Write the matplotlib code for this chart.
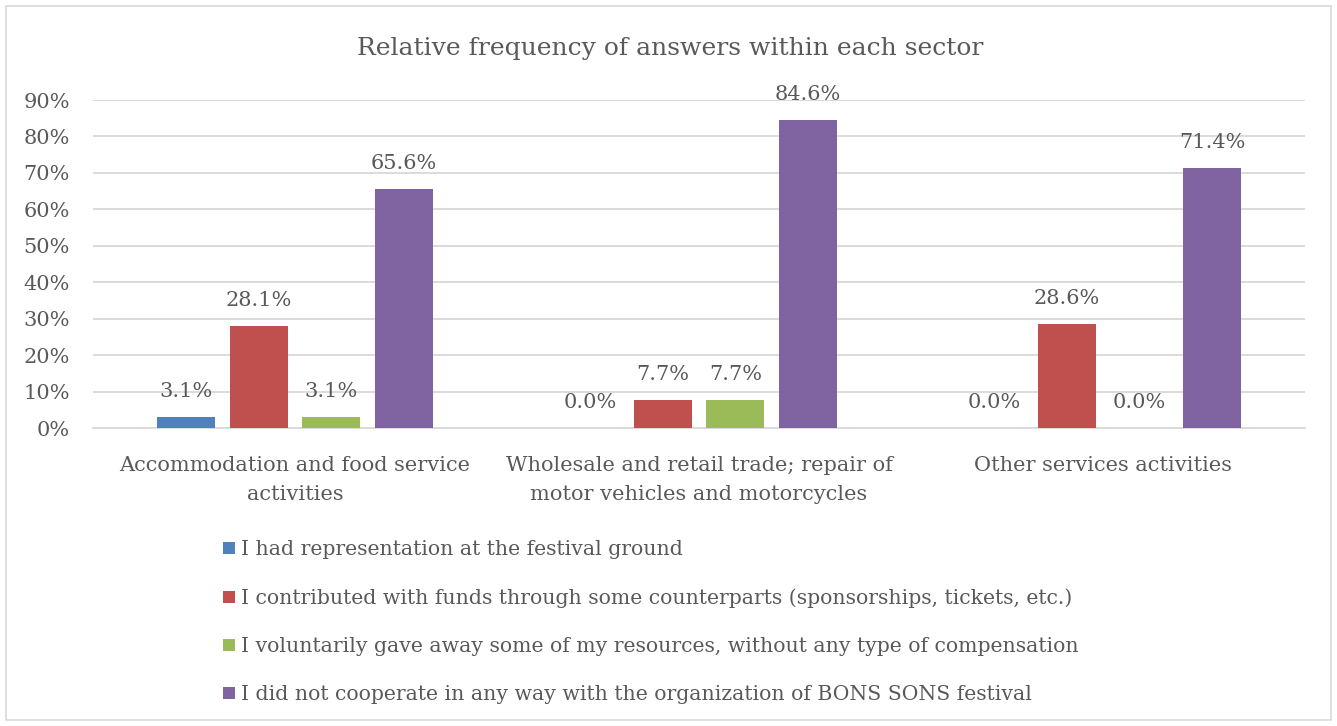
import numpy as np
import matplotlib
matplotlib.use("Agg")
import matplotlib.pyplot as plt
from matplotlib.patches import Rectangle

sectors = ["Accommodation and food service\nactivities",
           "Wholesale and retail trade; repair of\nmotor vehicles and motorcycles",
           "Other services activities"]
answers = ["I had representation at the festival ground",
           "I contributed with funds through some counterparts (sponsorships, tickets, etc.)",
           "I voluntarily gave away some of my resources, without any type of compensation",
           "I did not cooperate in any way with the organization of BONS SONS festival"]
# percentage of answers per sector, one list per answer
had_representation = [3.1, 0.0, 0.0]
contributed_funds = [28.1, 7.7, 28.6]
gave_resources = [3.1, 7.7, 0.0]
did_not_cooperate = [65.6, 84.6, 71.4]
yticks = [0, 10, 20, 30, 40, 50, 60, 70, 80, 90]

series = [had_representation, contributed_funds, gave_resources, did_not_cooperate]
colors = ["#4F81BD", "#C0504D", "#9BBB59", "#8064A2"]
text_col = "#595959"

plt.rcParams['font.family'] = ['DejaVu Serif']

fig = plt.figure(figsize=(13.37, 7.26), dpi=100)
fig.patches.append(Rectangle((6 / 1337, 6 / 726), 1 - 12 / 1337, 1 - 12 / 726,
                             transform=fig.transFigure, fill=False,
                             edgecolor="#D9D9D9", linewidth=1.2))

ax = fig.add_axes([93 / 1337, 1 - 428 / 726, (1305 - 93) / 1337, (428 - 100) / 726])

x = np.arange(len(sectors))
width = 0.143
step = 0.18
for i, (vals, col) in enumerate(zip(series, colors)):
    pos = x + (i - 1.5) * step
    ax.bar(pos, vals, width=width, color=col, label=answers[i], zorder=3)
    for p, v in zip(pos, vals):
        ax.annotate(f"{v:.1f}%", (p, v), xytext=(0, 18), textcoords="offset points",
                    ha="center", va="center", fontsize=15, color=text_col)

ax.set_xlim(-0.5, 2.5)
ax.set_ylim(0, 90)
ax.set_yticks(yticks)
ax.set_yticklabels([f"{t}%" for t in yticks])
ax.yaxis.grid(True, color="#D9D9D9", linewidth=1.3, zorder=0)
ax.set_axisbelow(True)
ax.set_xticks(x)
ax.set_xticklabels(sectors, linespacing=1.7)
ax.tick_params(axis="both", length=0, labelsize=15, labelcolor=text_col)
ax.tick_params(axis="x", pad=20)
ax.tick_params(axis="y", pad=16.5)
for s in ["top", "right", "left"]:
    ax.spines[s].set_visible(False)
ax.spines["bottom"].set_color("#D9D9D9")
ax.spines["bottom"].set_linewidth(1.3)

fig.text(670 / 1337, 1 - 48 / 726, "Relative frequency of answers within each sector",
         ha="center", va="center", fontsize=18, color=text_col)

leg = fig.legend(loc="upper left", bbox_to_anchor=(205 / 1337, 1 - 522 / 726),
                 frameon=False, fontsize=14.7, labelcolor=text_col,
                 handlelength=0.55, handleheight=0.55, handletextpad=0.3,
                 labelspacing=1.42)

fig.savefig("out.png", dpi=100, facecolor="white")
